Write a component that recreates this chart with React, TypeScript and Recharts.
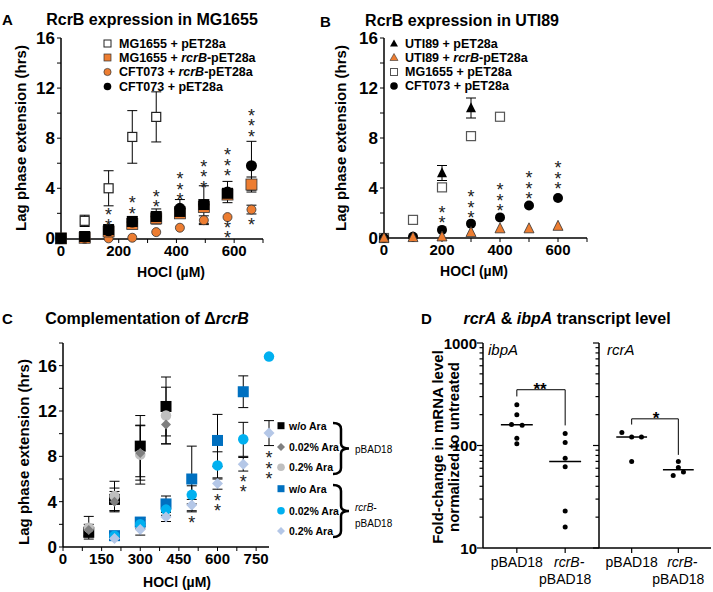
import { ScatterChart, Scatter, XAxis, YAxis, ErrorBar, ReferenceLine } from 'recharts';

const FONT = 'Arial, "Liberation Sans", Helvetica, sans-serif';
const ORANGE = '#ED7D31';
const BLUE = '#0070C0';
const CYAN = '#00B0F0';
const LIGHT_BLUE = '#B4C7E7';
const DARK_GREY = '#7F7F7F';
const LIGHT_GREY = '#BFBFBF';

// ---- Panel A: RcrB expression in MG1655 ----
const doseA = [0, 82, 165, 247, 330, 412, 495, 577, 660];
const mgVectorDoseA = [82, 165, 247, 330];
const mgVectorA = [1.4, 4.0, 8.1, 9.7];
const mgVectorErrA = [0.45, 1.4, 2.1, 2.0];
const mgRcrbA = [0, 0.05, 0.55, 1.15, 1.6, 2.0, 2.5, 3.5, 4.3];
const mgRcrbErrA = [0, 0, 0, 0, 0, 0, 0, 0, 0.6];
const cftRcrbA = [-0.05, -0.05, 0, 0.05, 0.5, 0.85, 1.45, 1.7, 2.3];
const cftRcrbErrA = [0, 0, 0, 0, 0, 0, 0.35, 0, 0.35];
const cftVectorA = [0, 0.1, 0.6, 1.3, 1.75, 2.4, 2.7, 3.7, 5.8];
const cftVectorErrA = [0, 0, 0, 0, 0, 0.7, 1.5, 0.85, 1.95];
const blackSquareA = [0, 0.15, 0.7, 1.35, 1.75, 2.15, 2.7, 3.6];
const blackSquareErrA = [0, 0, 0.4, 0.4, 0.6, 0, 0, 0];
const starDoseA = [165, 247, 330, 412, 495, 577, 577, 660, 660];
const starValA = [1.38, 2.31, 2.84, 3.42, 4.4, 5.31, 0.37, 8.46, 1.43];
const starCountA = [2, 2, 2, 3, 3, 3, 2, 3, 1];

// ---- Panel B: RcrB expression in UTI89 ----
const doseB = [0, 100, 200, 300, 400, 500, 600];
const utiVectorDoseB = [200, 300];
const utiVectorB = [5.2, 10.4];
const utiVectorErrB = [0.6, 0.8];
const utiRcrbB = [0, 0.05, 0.1, 0.45, 0.75, 0.75, 0.95];
const mgVectorB = [0, 1.45, 4.05, 8.15, 9.7];
const cftVectorB = [0, 0.1, 0.65, 1.15, 1.65, 2.6, 3.2];
const starDoseB = [200, 300, 400, 500, 600];
const starValB = [1.54, 1.94, 2.5, 3.45, 4.25];
const starCountB = [2, 3, 3, 3, 3];

// ---- Panel C: Complementation of ΔrcrB ----
const doseVectorC = [100, 200, 300, 400];
const vecNoAraC = [1.3, 4.2, 8.9, 12.4];
const vecNoAraErrC = [0.4, 1.0, 2.7, 2.6];
const vecLowAraC = [1.5, 4.0, 8.3, 10.8];
const vecLowAraErrC = [0.5, 0.9, 2.4, 1.7];
const vecHighAraC = [1.7, 4.5, 8.15, 11.6];
const vecHighAraErrC = [1.0, 1.3, 2.6, 2.5];
const doseRcrbC = [200, 300, 400, 500, 600, 700, 800];
const rcrbNoAraC = [1.0, 2.2, 3.8, 6.0, 9.4, 13.7];
const rcrbNoAraErrC = [0.2, 0.4, 0.7, 2.9, 2.3, 1.4];
const rcrbLowAraC = [1.0, 2.0, 3.3, 4.6, 7.2, 9.5, 16.8];
const rcrbLowAraErrC = [0.2, 0.4, 0.5, 0.8, 1.2, 1.5, 0];
const rcrbHighAraC = [0.75, 1.55, 2.65, 3.7, 5.6, 7.3, 10.05];
const rcrbHighAraErrC = [0.1, 0.5, 0.4, 0.5, 0.5, 0.6, 1.1];
const starDoseC = [500, 600, 700, 800];
const starValC = [2.5, 3.56, 5.23, 6.38];
const starCountC = [1, 2, 2, 3];

// ---- Panel D: transcript levels (log scale) ----
const categoriesD = ['pBAD18', 'rcrB-pBAD18'];
const ibpaVector = [250, 200, 160, 158, 118, 104];
const ibpaVectorJitter = [0, 0, -0.11, 0.11, 0, 0];
const ibpaRcrb = [131, 107, 75, 62, 23, 16];
const ibpaMedians = [159, 70];
const rcraVector = [134, 121, 121, 70];
const rcraVectorJitter = [-0.21, 0, 0.21, 0];
const rcraRcrb = [70, 61, 55, 51];
const rcraRcrbJitter = [0, 0, 0.11, -0.11];
const rcraMedians = [121, 58];
const logTicks = [10, 20, 30, 40, 50, 60, 70, 80, 90, 100, 200, 300, 400, 500, 600, 700, 800, 900, 1000];

type Pt = { x: number; y: number; err: number; n?: number };

function pts(xs: number[], ys: number[], errs?: number[]): Pt[] {
  return ys.map((y, i) => ({ x: xs[i], y, err: errs ? errs[i] : 0 }));
}
function errPts(xs: number[], ys: number[], errs: number[]): Pt[] {
  return pts(xs, ys, errs).filter((p) => p.err > 0);
}
function starPts(xs: number[], ys: number[], counts: number[]): Pt[] {
  return ys.map((y, i) => ({ x: xs[i], y, err: 0, n: counts[i] }));
}
function jitterPts(cat: number, ys: number[], jit?: number[]): Pt[] {
  return ys.map((y, i) => ({ x: cat + (jit ? jit[i] : 0), y, err: 0 }));
}

const square = (size: number, fill: string, stroke = 'none', sw = 1) => (p: any) => (
  <rect x={p.cx - size / 2} y={p.cy - size / 2} width={size} height={size} fill={fill} stroke={stroke} strokeWidth={sw} />
);
const circle = (d: number, fill: string, stroke = 'none', sw = 1) => (p: any) => (
  <circle cx={p.cx} cy={p.cy} r={d / 2} fill={fill} stroke={stroke} strokeWidth={sw} />
);
const triangle = (s: number, fill: string, stroke = 'none', sw = 1) => (p: any) => (
  <polygon
    points={`${p.cx},${p.cy - s * 0.58} ${p.cx - s / 2},${p.cy + s * 0.42} ${p.cx + s / 2},${p.cy + s * 0.42}`}
    fill={fill}
    stroke={stroke}
    strokeWidth={sw}
  />
);
const diamond = (s: number, fill: string) => (p: any) => (
  <polygon points={`${p.cx},${p.cy - s / 2} ${p.cx + s / 2},${p.cy} ${p.cx},${p.cy + s / 2} ${p.cx - s / 2},${p.cy}`} fill={fill} />
);
const nothing = () => <g />;
// a stack of asterisks drawn upward from the data position
const stars = (p: any) => {
  const n = p.payload?.n ?? p.n ?? 1;
  return (
    <text x={p.cx} y={p.cy + 10.5} textAnchor="middle" fontSize={18} fontFamily={FONT} fill="#222">
      {Array.from({ length: n }).map((_, i) => (
        <tspan key={i} x={p.cx} dy={i === 0 ? 0 : -10.5}>*</tspan>
      ))}
    </text>
  );
};

const axisLine = { stroke: '#000', strokeWidth: 1.5 };
const tickLine = { stroke: '#000', strokeWidth: 1 };
const xTick = { fill: '#000', fontSize: 15, fontWeight: 700, fontFamily: FONT };
const yTick = { fill: '#000', fontSize: 17, fontWeight: 700, fontFamily: FONT };
const evenTicks = (max: number) => Array.from({ length: max / 2 + 1 }, (_, i) => i * 2);
const every = (step: number) => (v: number) => (v % step === 0 ? String(v) : '');

const errBar = <ErrorBar dataKey="err" direction="y" width={5} stroke="#000" strokeWidth={1} />;

function PanelA() {
  return (
    <div style={{ position: 'absolute', left: 21, top: 0 }}>
      <ScatterChart width={252} height={280} margin={{ top: 38, right: 10, bottom: 11, left: 0 }}>
        <XAxis type="number" dataKey="x" domain={[0, 700]} ticks={[0, 100, 200, 300, 400, 500, 600, 700]} interval={0}
          tickFormatter={every(200)} axisLine={axisLine} tickLine={tickLine} tickSize={4} tick={xTick} height={30} />
        <YAxis type="number" dataKey="y" domain={[0, 16]} ticks={evenTicks(16)} interval={0} tickFormatter={every(4)}
          axisLine={axisLine} tickLine={tickLine} tickSize={4} tickMargin={2} tick={yTick} width={40} />
        <Scatter data={errPts(mgVectorDoseA, mgVectorA, mgVectorErrA)} shape={nothing} isAnimationActive={false}>{errBar}</Scatter>
        <Scatter data={errPts(doseA, cftVectorA, cftVectorErrA)} shape={nothing} isAnimationActive={false}>{errBar}</Scatter>
        <Scatter data={errPts(doseA, blackSquareA, blackSquareErrA)} shape={nothing} isAnimationActive={false}>{errBar}</Scatter>
        <Scatter data={errPts(doseA, mgRcrbA, mgRcrbErrA)} shape={nothing} isAnimationActive={false}>{errBar}</Scatter>
        <Scatter data={errPts(doseA, cftRcrbA, cftRcrbErrA)} shape={nothing} isAnimationActive={false}>{errBar}</Scatter>
        <Scatter data={pts(doseA, cftRcrbA)} shape={circle(9, ORANGE, '#333', 0.8)} isAnimationActive={false} />
        <Scatter data={pts(doseA, mgRcrbA)} shape={square(11, ORANGE, '#333', 0.8)} isAnimationActive={false} />
        <Scatter data={pts(doseA, blackSquareA)} shape={square(11, '#000')} isAnimationActive={false} />
        <Scatter data={pts(doseA, cftVectorA)} shape={circle(11, '#000')} isAnimationActive={false} />
        <Scatter data={pts(mgVectorDoseA, mgVectorA)} shape={square(9, '#fff', '#222', 1.2)} isAnimationActive={false} />
        <Scatter data={starPts(starDoseA, starValA, starCountA)} shape={stars} isAnimationActive={false} />
      </ScatterChart>
    </div>
  );
}

function PanelB() {
  return (
    <div style={{ position: 'absolute', left: 344, top: 0 }}>
      <ScatterChart width={253} height={280} margin={{ top: 38, right: 10, bottom: 12, left: 0 }}>
        <XAxis type="number" dataKey="x" domain={[0, 700]} ticks={[0, 100, 200, 300, 400, 500, 600, 700]} interval={0}
          tickFormatter={every(200)} axisLine={axisLine} tickLine={tickLine} tickSize={4} tick={xTick} height={30} />
        <YAxis type="number" dataKey="y" domain={[0, 16]} ticks={evenTicks(16)} interval={0} tickFormatter={every(4)}
          axisLine={axisLine} tickLine={tickLine} tickSize={4} tickMargin={2} tick={yTick} width={40} />
        <Scatter data={errPts(utiVectorDoseB, utiVectorB, utiVectorErrB)} shape={nothing} isAnimationActive={false}>{errBar}</Scatter>
        <Scatter data={pts(doseB, mgVectorB)} shape={square(9, '#fff', '#555', 1.2)} isAnimationActive={false} />
        <Scatter data={pts(doseB, cftVectorB)} shape={circle(10, '#000')} isAnimationActive={false} />
        <Scatter data={pts(doseB, utiRcrbB)} shape={triangle(10, ORANGE, '#333', 0.8)} isAnimationActive={false} />
        <Scatter data={pts(utiVectorDoseB, utiVectorB)} shape={triangle(10, '#000')} isAnimationActive={false} />
        <Scatter data={starPts(starDoseB, starValB, starCountB)} shape={stars} isAnimationActive={false} />
      </ScatterChart>
    </div>
  );
}

function PanelC() {
  return (
    <div style={{ position: 'absolute', left: 23, top: 300 }}>
      <ScatterChart width={256} height={287} margin={{ top: 43, right: 10, bottom: 10, left: 0 }}>
        <XAxis type="number" dataKey="x" domain={[0, 800]} ticks={[0, 75, 150, 225, 300, 375, 450, 525, 600, 675, 750]} interval={0}
          tickFormatter={every(150)} axisLine={axisLine} tickLine={tickLine} tickSize={4} tick={xTick} height={30} />
        <YAxis type="number" dataKey="y" domain={[0, 18]} ticks={evenTicks(18)} interval={0} tickFormatter={every(4)}
          axisLine={axisLine} tickLine={tickLine} tickSize={4} tickMargin={2} tick={yTick} width={40} />
        <Scatter data={errPts(doseVectorC, vecNoAraC, vecNoAraErrC)} shape={nothing} isAnimationActive={false}>{errBar}</Scatter>
        <Scatter data={errPts(doseVectorC, vecLowAraC, vecLowAraErrC)} shape={nothing} isAnimationActive={false}>{errBar}</Scatter>
        <Scatter data={errPts(doseVectorC, vecHighAraC, vecHighAraErrC)} shape={nothing} isAnimationActive={false}>{errBar}</Scatter>
        <Scatter data={errPts(doseRcrbC, rcrbNoAraC, rcrbNoAraErrC)} shape={nothing} isAnimationActive={false}>{errBar}</Scatter>
        <Scatter data={errPts(doseRcrbC, rcrbLowAraC, rcrbLowAraErrC)} shape={nothing} isAnimationActive={false}>{errBar}</Scatter>
        <Scatter data={errPts(doseRcrbC, rcrbHighAraC, rcrbHighAraErrC)} shape={nothing} isAnimationActive={false}>{errBar}</Scatter>
        <Scatter data={pts(doseVectorC, vecNoAraC)} shape={square(11, '#000')} isAnimationActive={false} />
        <Scatter data={pts(doseVectorC, vecHighAraC)} shape={circle(10.5, LIGHT_GREY)} isAnimationActive={false} />
        <Scatter data={pts(doseVectorC, vecLowAraC)} shape={diamond(10, DARK_GREY)} isAnimationActive={false} />
        <Scatter data={pts(doseRcrbC, rcrbNoAraC)} shape={square(11, BLUE)} isAnimationActive={false} />
        <Scatter data={pts(doseRcrbC, rcrbLowAraC)} shape={circle(10.5, CYAN)} isAnimationActive={false} />
        <Scatter data={pts(doseRcrbC, rcrbHighAraC)} shape={diamond(11, LIGHT_BLUE)} isAnimationActive={false} />
        <Scatter data={starPts(starDoseC, starValC, starCountC)} shape={stars} isAnimationActive={false} />
      </ScatterChart>
    </div>
  );
}

const LogTick = (showLabel: boolean) => (p: any) => {
  const v = p.payload.value;
  const major = v === 10 || v === 100 || v === 1000;
  const len = major ? 6 : 3.5;
  return (
    <g>
      <line x1={p.x - len} x2={p.x} y1={p.y} y2={p.y} stroke="#000" strokeWidth={1.2} />
      {showLabel && major && (
        <text x={p.x - 6} y={p.y} textAnchor="end" dominantBaseline="central" fontSize={15} fontWeight={700} fontFamily={FONT} fill="#000">
          {v}
        </text>
      )}
    </g>
  );
};

const CatTick = (p: any) => {
  const label = categoriesD[p.payload.value] ?? '';
  const parts = label.startsWith('rcrB-') ? ['rcrB-', label.slice(5)] : [label];
  return (
    <g>
      <line x1={p.x} x2={p.x} y1={p.y} y2={p.y + 5} stroke="#000" strokeWidth={1.2} />
      {parts.map((t, i) => (
        <text key={i} x={p.x + (parts.length > 1 && i === 0 ? 4 : 0)} y={p.y + 14 + i * 17} textAnchor="middle" dominantBaseline="central"
          fontSize={14} fontStyle={t === 'rcrB-' ? 'italic' : 'normal'} fontFamily={FONT} fill="#000">
          {t}
        </text>
      ))}
    </g>
  );
};

function PanelD({ left, width, vector, vectorJit, rcrb, rcrbJit, medians, bracket, showLabels }: any) {
  return (
    <div style={{ position: 'absolute', left, top: 300 }}>
      <ScatterChart width={width} height={292} margin={{ top: 43, right: 2, bottom: 0, left: 0 }}>
        <XAxis type="number" dataKey="x" domain={[-0.7, 1.7]} ticks={[0, 1]} interval={0}
          axisLine={axisLine} tickLine={false} tickSize={0} tickMargin={0} tick={CatTick} height={44} />
        <YAxis type="number" dataKey="y" scale="log" domain={[10, 1000]} ticks={logTicks} interval={0}
          axisLine={axisLine} tickLine={false} tickSize={0} tickMargin={0} tick={LogTick(showLabels)} width={40} />
        {medians.map((m: number, i: number) => (
          <ReferenceLine key={i} segment={[{ x: i - 0.33, y: m }, { x: i + 0.33, y: m }]} stroke="#000" strokeWidth={1.5} />
        ))}
        <Scatter data={bracket} shape={nothing} line={{ stroke: '#000', strokeWidth: 1 }} lineType="joint" isAnimationActive={false} />
        <Scatter data={jitterPts(0, vector, vectorJit)} shape={circle(5, '#000')} isAnimationActive={false} />
        <Scatter data={jitterPts(1, rcrb, rcrbJit)} shape={circle(5, '#000')} isAnimationActive={false} />
      </ScatterChart>
    </div>
  );
}

const T = (props: any) => <text fontFamily={FONT} dominantBaseline="central" fill="#000" {...props} />;

function Overlay() {
  const legendA = [
    { y: 43.5, m: <rect x={104} y={40} width={7} height={7} fill="#fff" stroke="#222" />, t: <>MG1655 + pET28a</> },
    { y: 57.5, m: <rect x={104} y={54} width={7} height={7} fill={ORANGE} stroke="#333" strokeWidth={0.7} />, t: <>MG1655 + <tspan fontStyle="italic">rcrB</tspan>-pET28a</> },
    { y: 72, m: <circle cx={107.5} cy={72} r={3.6} fill={ORANGE} stroke="#333" strokeWidth={0.7} />, t: <>CFT073 + <tspan fontStyle="italic">rcrB</tspan>-pET28a</> },
    { y: 86.5, m: <circle cx={107.5} cy={86.5} r={3.8} fill="#000" />, t: <>CFT073 + pET28a</> },
  ];
  const legendB = [
    { y: 43.5, m: <polygon points="394,39.5 390,46.5 398,46.5" fill="#000" />, t: <>UTI89 + pET28a</> },
    { y: 57.5, m: <polygon points="394,53.5 390,60.5 398,60.5" fill={ORANGE} stroke="#333" strokeWidth={0.6} />, t: <>UTI89 + <tspan fontStyle="italic">rcrB</tspan>-pET28a</> },
    { y: 72, m: <rect x={390.5} y={68.5} width={7} height={7} fill="#fff" stroke="#555" />, t: <>MG1655 + pET28a</> },
    { y: 86, m: <circle cx={394} cy={86} r={3.8} fill="#000" />, t: <>CFT073 + pET28a</> },
  ];
  const legendC = [
    { y: 425.7, m: <rect x={277.5} y={422.2} width={7} height={7} fill="#000" /> },
    { y: 447, m: <polygon points="281,443 285,447 281,451 277,447" fill={DARK_GREY} /> },
    { y: 467.3, m: <circle cx={281} cy={467.3} r={3.8} fill={LIGHT_GREY} /> },
    { y: 488.7, m: <rect x={277.5} y={485.2} width={7} height={7} fill={BLUE} /> },
    { y: 510.7, m: <circle cx={281} cy={510.7} r={3.8} fill={CYAN} /> },
    { y: 531, m: <polygon points="281,527 285,531 281,535 277,531" fill={LIGHT_BLUE} /> },
  ];
  const legendCText = ['w/o Ara', '0.02% Ara', '0.2% Ara', 'w/o Ara', '0.02% Ara', '0.2% Ara'];
  const brace = (x0: number, y1: number, y2: number) => {
    const xm = x0 + 8;
    const ym = (y1 + y2) / 2;
    return `M${x0},${y1} Q${xm},${y1} ${xm},${y1 + 6} L${xm},${ym - 5} Q${xm},${ym} ${xm + 8},${ym} Q${xm},${ym} ${xm},${ym + 5} L${xm},${y2 - 6} Q${xm},${y2} ${x0},${y2}`;
  };
  const title = { fontSize: 16, fontWeight: 700, textAnchor: 'middle' };
  const letter = { fontSize: 15, fontWeight: 700 };
  const ylab = { fontSize: 15, fontWeight: 700, textAnchor: 'middle' };
  const xlab = { fontSize: 14, fontWeight: 700, textAnchor: 'middle' };
  return (
    <svg width={713} height={592} style={{ position: 'absolute', left: 0, top: 0, pointerEvents: 'none' }}>
      <T x={2} y={19} {...letter}>A</T>
      <T x={152} y={19} {...title}>RcrB expression in MG1655</T>
      <T x={320} y={21} {...letter}>B</T>
      <T x={462} y={20} {...title}>RcrB expression in UTI89</T>
      <T x={2} y={318} {...letter}>C</T>
      <T x={147} y={318} {...title}>Complementation of Δ<tspan fontStyle="italic">rcrB</tspan></T>
      <T x={421} y={318} {...letter}>D</T>
      <T x={567} y={318} {...title}><tspan fontStyle="italic">rcrA</tspan> &amp; <tspan fontStyle="italic">ibpA</tspan> transcript level</T>

      <T x={20} y={138} {...ylab} transform="rotate(-90 20 138)">Lag phase extension (hrs)</T>
      <T x={340} y={138} {...ylab} transform="rotate(-90 340 138)">Lag phase extension (hrs)</T>
      <T x={23} y={452} {...ylab} transform="rotate(-90 23 452)">Lag phase extension (hrs)</T>
      <T x={437} y={447} {...ylab} transform="rotate(-90 437 447)">Fold-change in mRNA level</T>
      <T x={453} y={447} {...ylab} transform="rotate(-90 453 447)">normalized to untreated</T>

      <T x={171} y={272} {...xlab}>HOCl (µM)</T>
      <T x={474} y={271} {...xlab}>HOCl (µM)</T>
      <T x={177} y={582} {...xlab}>HOCl (µM)</T>

      {legendA.map((r, i) => (
        <g key={i}>
          {r.m}
          <T x={119} y={r.y} fontSize={12.5} fontWeight={700}>{r.t}</T>
        </g>
      ))}
      {legendB.map((r, i) => (
        <g key={i}>
          {r.m}
          <T x={405} y={r.y} fontSize={12.5} fontWeight={700}>{r.t}</T>
        </g>
      ))}
      {legendC.map((r, i) => (
        <g key={i}>
          {r.m}
          <T x={289} y={r.y} fontSize={10.5} fontWeight={700}>{legendCText[i]}</T>
        </g>
      ))}
      <path d={brace(333, 423, 474)} fill="none" stroke="#000" strokeWidth={2.5} />
      <path d={brace(333, 485, 537)} fill="none" stroke="#000" strokeWidth={2.5} />
      <T x={355} y={449} fontSize={10}>pBAD18</T>
      <T x={355} y={507} fontSize={10} fontStyle="italic">rcrB-</T>
      <T x={355} y={523} fontSize={10}>pBAD18</T>

      <T x={488} y={349} fontSize={15} fontStyle="italic">ibpA</T>
      <T x={607} y={349} fontSize={15} fontStyle="italic">rcrA</T>
      <T x={540} y={389} fontSize={17} fontWeight={700} textAnchor="middle">**</T>
      <T x={656} y={418} fontSize={17} fontWeight={700} textAnchor="middle">*</T>
    </svg>
  );
}

export default function App() {
  const bracketIbpa = [{ x: 0, y: 301 }, { x: 0, y: 350 }, { x: 1, y: 350 }, { x: 1, y: 157 }];
  const bracketRcra = [{ x: 0, y: 160 }, { x: 0, y: 182 }, { x: 1, y: 182 }, { x: 1, y: 81 }];
  return (
    <div style={{ position: 'absolute', left: 0, top: 0, width: 713, height: 592, background: '#fff', fontFamily: FONT }}>
      <PanelA />
      <PanelB />
      <PanelC />
      <PanelD left={443} width={158} vector={ibpaVector} vectorJit={ibpaVectorJitter} rcrb={ibpaRcrb}
        medians={ibpaMedians} bracket={bracketIbpa} showLabels />
      <PanelD left={559} width={154} vector={rcraVector} vectorJit={rcraVectorJitter} rcrb={rcraRcrb} rcrbJit={rcraRcrbJitter}
        medians={rcraMedians} bracket={bracketRcra} showLabels={false} />
      <Overlay />
    </div>
  );
}
